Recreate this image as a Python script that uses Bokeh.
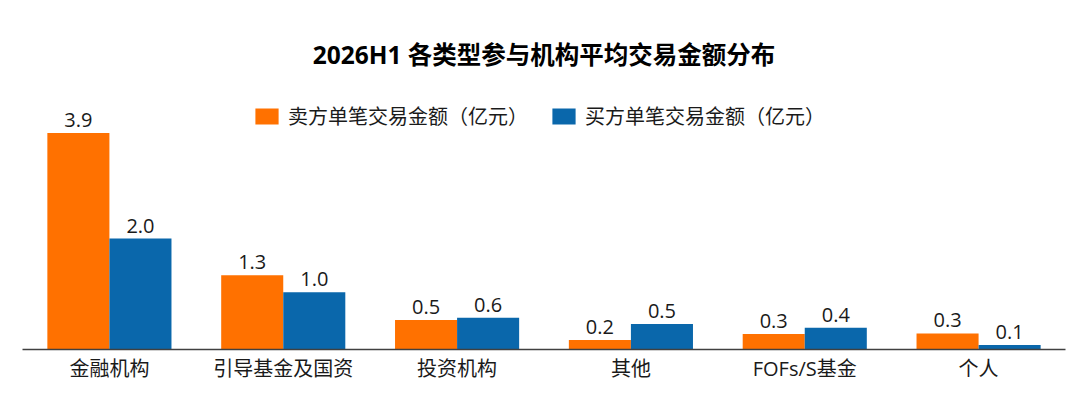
from bokeh.plotting import figure
from bokeh.models import ColumnDataSource, FactorRange, Range1d, Legend, LegendItem
from bokeh.transform import dodge
from bokeh.core.properties import value
from bokeh.embed import file_html
from bokeh.resources import INLINE

# ---- data ----
categories = ["金融机构", "引导基金及国资", "投资机构", "其他", "FOFs/S基金", "个人"]
sell_values = [3.9, 1.34, 0.53, 0.17, 0.28, 0.29]
buy_values = [2.0, 1.03, 0.57, 0.46, 0.39, 0.08]
series_names = ["卖方单笔交易金额（亿元）", "买方单笔交易金额（亿元）"]
title_text = "2026H1 各类型参与机构平均交易金额分布"

ORANGE = "#FF7100"
BLUE = "#0A67AB"
TXT = "#1a1a1a"
FONT = "Open Sans, Noto Sans CJK SC"

src = ColumnDataSource(dict(
    cat=categories,
    sell=sell_values,
    buy=buy_values,
    sell_lbl=[f"{v:.1f}" for v in sell_values],
    buy_lbl=[f"{v:.1f}" for v in buy_values],
))

W, H = 1080, 406
TOP, BOTTOM, LEFT, RIGHT = 78, 57, 22, 15
PX_PER_UNIT = 55.5
y_end = (H - TOP - BOTTOM) / PX_PER_UNIT

p = figure(width=W, height=H, x_range=FactorRange(*categories, range_padding=0),
           y_range=Range1d(0, y_end), output_backend="svg", toolbar_location=None,
           min_border_left=LEFT, min_border_right=RIGHT, min_border_top=TOP,
           min_border_bottom=BOTTOM, title=title_text)

p.title.text_font = FONT
p.title.text_font_size = "24.5px"
p.title.text_font_style = "bold"
p.title.text_color = "#000000"
p.title.align = "center"
p.title.offset = 3
p.title.standoff = 16

BW = 0.357
r1 = p.vbar(x=dodge("cat", -BW / 2, range=p.x_range), top="sell", width=BW, source=src,
            fill_color=ORANGE, line_color=None)
r2 = p.vbar(x=dodge("cat", BW / 2, range=p.x_range), top="buy", width=BW, source=src,
            fill_color=BLUE, line_color=None)

for key, off in (("sell", -BW / 2), ("buy", BW / 2)):
    p.text(x=dodge("cat", off, range=p.x_range), y=key, text=key + "_lbl", source=src,
           text_align="center", text_baseline="alphabetic", y_offset=-13,
           text_font=value(FONT), text_font_size="20px", text_color=TXT)

legend = Legend(items=[LegendItem(label=series_names[0], renderers=[r1]),
                       LegendItem(label=series_names[1], renderers=[r2])],
                orientation="horizontal", location=(230, 219),
                glyph_width=29, glyph_height=20, label_standoff=7, spacing=21,
                label_text_font=FONT, label_text_font_size="20px", label_text_color=TXT,
                label_height=20, padding=0, margin=0,
                border_line_color=None, background_fill_alpha=0)
p.add_layout(legend, "center")

p.yaxis.visible = False
p.xgrid.visible = False
p.ygrid.visible = False
p.outline_line_color = None

ax = p.xaxis[0]
ax.axis_line_color = "#404040"
ax.axis_line_width = 1.5
ax.major_tick_line_color = None
ax.minor_tick_line_color = None
ax.major_tick_out = 0
ax.major_tick_in = 0
ax.major_label_text_font = FONT
ax.major_label_text_font_size = "20px"
ax.major_label_text_color = TXT
ax.major_label_standoff = 5

open("out.html", "w").write(file_html(p, INLINE))
